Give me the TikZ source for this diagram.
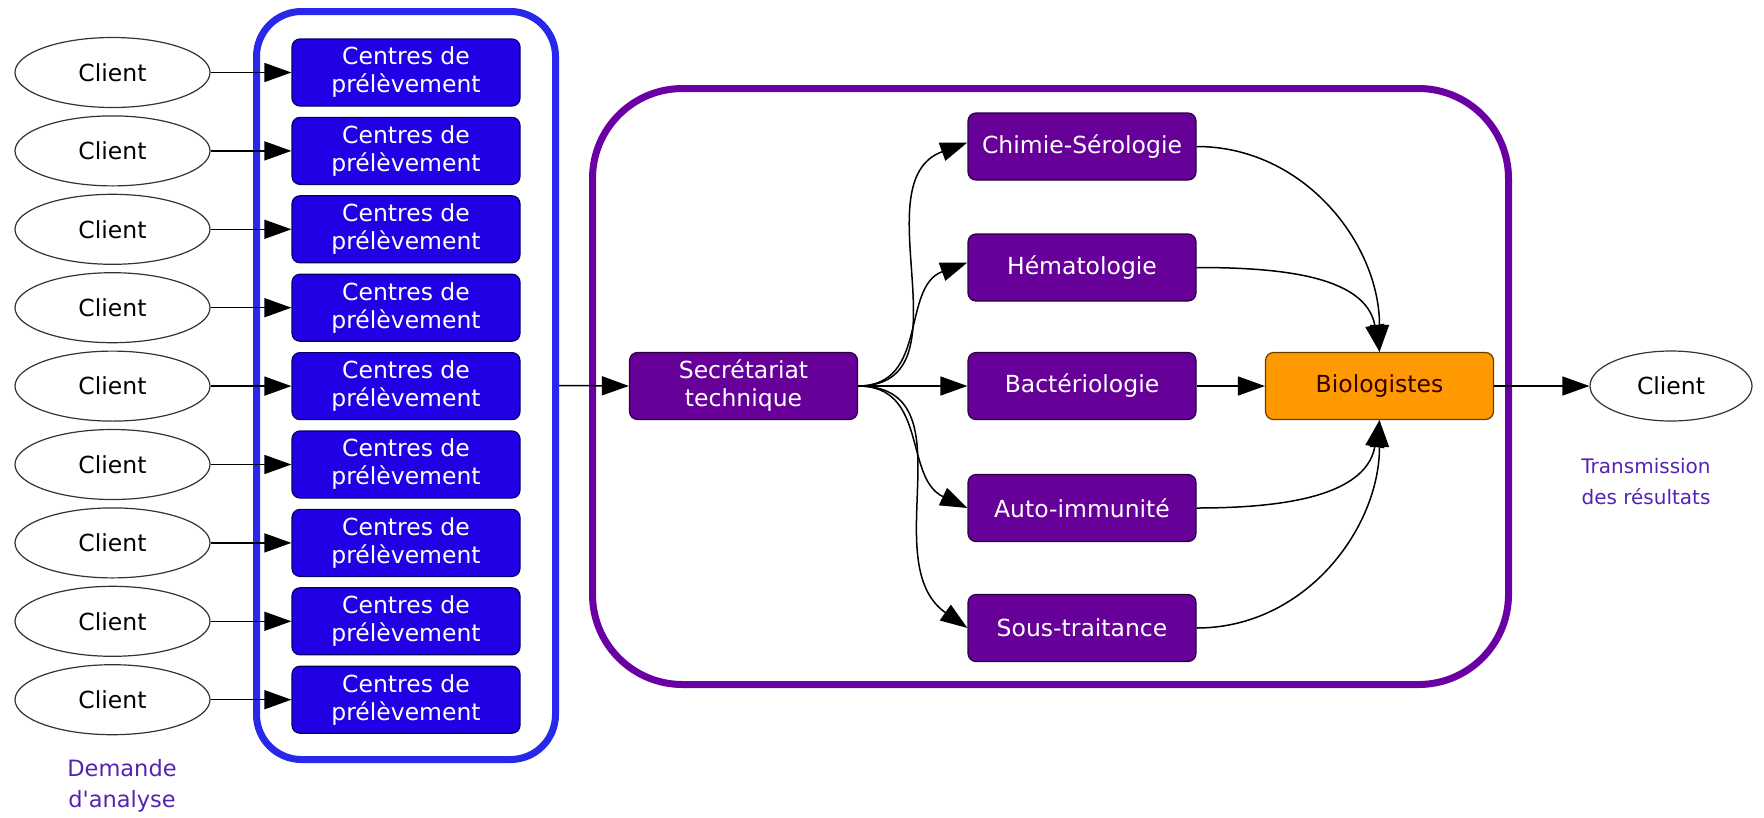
\documentclass[tikz,border=0pt]{standalone}
\usepackage{fontspec}
\setmainfont{DejaVu Sans}
\usetikzlibrary{shapes.geometric,arrows.meta}
\definecolor{cblue}{RGB}{34,0,230}
\definecolor{fblue}{RGB}{40,40,235}
\definecolor{cpurp}{RGB}{102,0,153}
\definecolor{fpurp}{RGB}{106,0,163}
\definecolor{corange}{RGB}{255,153,0}
\definecolor{clabel}{RGB}{85,35,180}
\begin{document}
\begin{tikzpicture}[x=1pt,y=-1pt,
  txt/.style={font=\fontsize{23.5}{28}\selectfont},
  client/.style={txt, ellipse, draw=black!80, line width=1.2pt, minimum width=195pt, minimum height=70pt, inner sep=0pt},
  box/.style={txt, rectangle, rounded corners=8pt, line width=1.2pt, minimum width=228pt, minimum height=67pt, inner sep=0pt, align=center},
  centre/.style={box, draw=black!60!blue, fill=cblue, text=white},
  lab/.style={box, draw=black!60!cpurp, fill=cpurp, text=white},
  bio/.style={box, draw=black!60!corange, fill=corange, text=black!80!red},
  frame/.style={rectangle, line width=7pt, inner sep=0pt},
  conn/.style={line width=1.5pt, -{Triangle[length=27pt,width=19pt]}},
  lbl/.style={text=clabel, align=center}
]
\useasboundingbox (0,0) rectangle (1764,817);
% frames
\node[frame, draw=fblue, rounded corners=45pt, minimum width=299pt, minimum height=748pt] (bframe) at (406,385.5) {};
\node[frame, draw=fpurp, rounded corners=90pt, minimum width=916pt, minimum height=596pt] (pframe) at (1050.5,386.5) {};
% clients and centres
\foreach \i in {0,...,8} {
  \pgfmathsetmacro{\yy}{72.5+\i*78.4}
  \node[client] (cl\i) at (112.5,\yy) {Client};
  \node[centre] (ce\i) at (406,\yy) {Centres de\\prélèvement};
  \draw[conn] (cl\i.east) -- (ce\i.west);
}
\node[lbl, font=\fontsize{22.5}{31}\selectfont] (dem) at (122,786) {Demande\\d\textquotesingle analyse};
% middle
\node[lab] (sec) at (743.5,386) {Secrétariat\\technique};
\node[lab] (chim) at (1082,146.5) {Chimie-Sérologie};
\node[lab] (hem) at (1082,267.5) {Hématologie};
\node[lab] (bac) at (1082,386) {Bactériologie};
\node[lab] (auto) at (1082,508) {Auto-immunité};
\node[lab] (sous) at (1082,628) {Sous-traitance};
\node[bio] (biol) at (1379.5,386) {Biologistes};
\node[client, minimum width=162pt] (clr) at (1671,386) {Client};
\node[lbl, font=\fontsize{20}{31}\selectfont] (trans) at (1646,482) {Transmission\\des résultats};
% connectors
\draw[conn] (bframe.east) -- (sec.west);
\draw[conn] (sec.east) to[out=0,in=200,looseness=1.1] ([yshift=4pt]chim.west);
\draw[conn] (sec.east) to[out=0,in=200,looseness=1.1] ([yshift=5pt]hem.west);
\draw[conn] (sec.east) -- (bac.west);
\draw[conn] (sec.east) to[out=0,in=155,looseness=1.1] (auto.west);
\draw[conn] (sec.east) to[out=0,in=145,looseness=1.1] (sous.west);
\draw[conn] (chim.east) to[out=0,in=90] (biol.north);
\draw[conn] (hem.east) to[out=0,in=100] (biol.north);
\draw[conn] (bac.east) -- (biol.west);
\draw[conn] (auto.east) to[out=0,in=-100] (biol.south);
\draw[conn] (sous.east) to[out=0,in=-90] (biol.south);
\draw[conn] (biol.east) -- (clr.west);
\end{tikzpicture}
\end{document}
